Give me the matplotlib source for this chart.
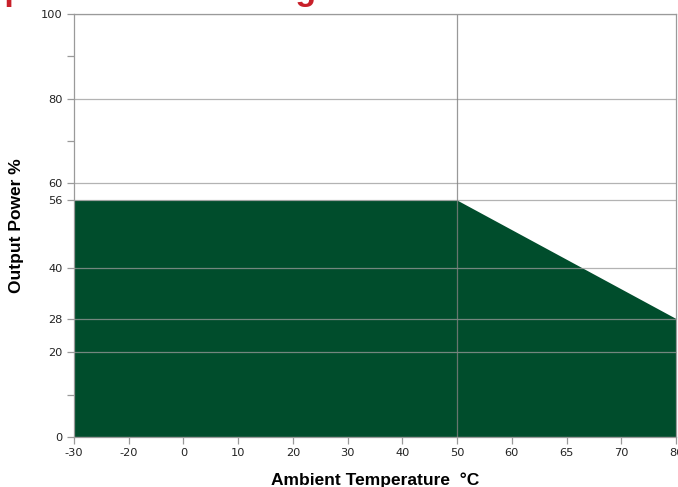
import matplotlib
matplotlib.use("Agg")
import matplotlib.pyplot as plt

# Data
temp_ticks = [-30, -20, 0, 10, 20, 30, 40, 50, 60, 65, 70, 80]
curve_temps = [-30, 50, 80]
curve_power = [56, 56, 28]
y_major = [0, 20, 28, 40, 56, 60, 80, 100]
y_minor = [10, 70, 90]
title_text = "Output Power Derating Curve"

idx = {t: i for i, t in enumerate(temp_ticks)}
cx = [idx[t] for t in curve_temps]

fig = plt.figure(figsize=(6.78, 4.87), dpi=100)
ax = fig.add_axes([74/678, 50/487, (676-74)/678, (437-14)/487])

green = "#004d2c"
ax.fill_between(cx, curve_power, 0, color=green, lw=0, zorder=1)

for y in y_major:
    ax.axhline(y, color="#9a9a9a", lw=0.9, alpha=0.75, zorder=2)
ax.axvline(idx[50], color="#808080", lw=0.9, alpha=0.8, zorder=2)

ax.set_xlim(0, len(temp_ticks) - 1)
ax.set_ylim(0, 100)
ax.set_xticks(range(len(temp_ticks)))
ax.set_xticklabels([str(t) for t in temp_ticks])
ax.set_yticks(y_major)
ax.set_yticks(y_minor, minor=True)
ax.set_yticklabels([str(v) for v in y_major])

for s in ax.spines.values():
    s.set_color("#9a9a9a")
    s.set_linewidth(0.9)
ax.tick_params(axis="both", which="both", direction="out", length=5, width=0.9,
               color="#9a9a9a", labelsize=8.2, labelcolor="#222222", pad=3)

ax.set_xlabel("Ambient Temperature  °C", fontsize=12.5, fontweight="bold",
              family=["Liberation Sans", "DejaVu Sans"], labelpad=10)
ax.set_ylabel("Output Power %", fontsize=12.5, fontweight="bold",
              family=["Liberation Sans", "DejaVu Sans"], labelpad=12)

fig.text(-0.079, 1.0, title_text, color="#c8202a", fontsize=24.5, fontweight="bold",
         family=["Liberation Sans", "DejaVu Sans"], va="baseline", ha="left")

fig.savefig("out.png", dpi=100)
